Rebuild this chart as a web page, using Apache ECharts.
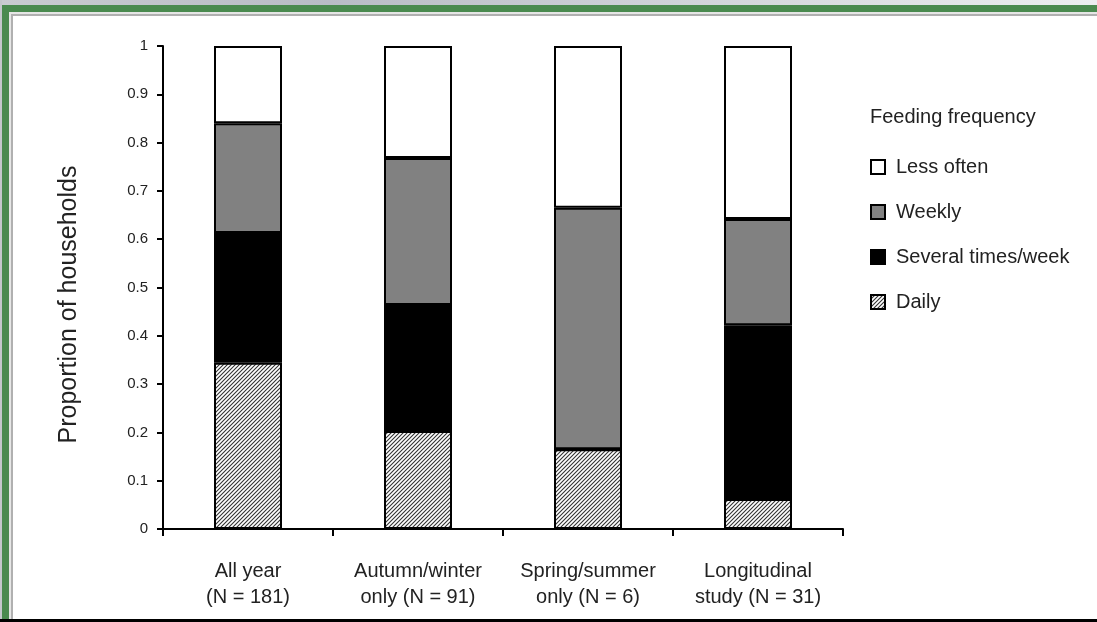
<!DOCTYPE html>
<html>
<head>
<meta charset="utf-8">
<script src="https://cdn.jsdelivr.net/npm/echarts@6/dist/echarts.min.js"></script>
<style>
html,body{margin:0;padding:0;background:#fff;}
#chart{width:1097px;height:622px;}
</style>
</head>
<body>
<div id="chart"></div>
<script>
// ---- data ----
var categories = ['All year\n(N = 181)', 'Autumn/winter\nonly (N = 91)', 'Spring/summer\nonly (N = 6)', 'Longitudinal\nstudy (N = 31)'];
var daily   = [0.344, 0.203, 0.165, 0.062];
var several = [0.269, 0.261, 0.000, 0.360];
var weekly  = [0.227, 0.304, 0.500, 0.220];
var less    = [0.160, 0.232, 0.335, 0.358];
var yTicks  = [0, 0.1, 0.2, 0.3, 0.4, 0.5, 0.6, 0.7, 0.8, 0.9, 1];
var seriesNames = ['Daily', 'Several times/week', 'Weekly', 'Less often'];
var legendOrder = ['Less often', 'Weekly', 'Several times/week', 'Daily'];

// hatch pattern
function makeHatch() {
  var s = 4;
  var c = document.createElement('canvas');
  c.width = s; c.height = s;
  var ctx = c.getContext('2d');
  ctx.fillStyle = '#ffffff';
  ctx.fillRect(0, 0, s, s);
  ctx.strokeStyle = '#333';
  ctx.lineWidth = 1.1;
  ctx.beginPath();
  ctx.moveTo(-1, s + 1); ctx.lineTo(s + 1, -1);
  ctx.moveTo(-1, 1); ctx.lineTo(1, -1);
  ctx.moveTo(s - 1, s + 1); ctx.lineTo(s + 1, s - 1);
  ctx.stroke();
  return c;
}
var hatch = { image: makeHatch(), repeat: 'repeat' };

var fills = {
  'Daily': hatch,
  'Several times/week': '#000000',
  'Weekly': '#818181',
  'Less often': '#ffffff'
};
var values = { 'Daily': daily, 'Several times/week': several, 'Weekly': weekly, 'Less often': less };

var chart = echarts.init(document.getElementById('chart'), null, { renderer: 'canvas' });
var font = 'Liberation Sans, Arial, sans-serif';

var series = seriesNames.map(function (n) {
  return {
    name: n,
    type: 'bar',
    stack: 'total',
    barWidth: '40%',
    data: values[n],
    itemStyle: { color: fills[n], borderColor: '#000', borderWidth: 2 },
    emphasis: { disabled: true }
  };
});

var option = {
  backgroundColor: '#ffffff',
  animation: false,
  textStyle: { fontFamily: font },
  graphic: [
    { type: 'rect', z: 100, shape: { x: 0, y: 0, width: 1097, height: 5 },
      style: { fill: new echarts.graphic.LinearGradient(0, 0, 1, 0, [{ offset: 0, color: '#c9cbd1' }, { offset: 0.3, color: '#b9bcc6' }, { offset: 1, color: '#eceef0' }]) } },
    { type: 'rect', z: 100, shape: { x: 0, y: 0, width: 2, height: 622 }, style: { fill: '#c4c7cc' } },
    { type: 'rect', z: 100, shape: { x: 2, y: 5, width: 1095, height: 7 }, style: { fill: '#4a8a4f' } },
    { type: 'rect', z: 100, shape: { x: 2, y: 5, width: 7, height: 617 }, style: { fill: '#4a8a4f' } },
    { type: 'rect', z: 100, shape: { x: 9, y: 12, width: 1088, height: 2 }, style: { fill: '#e6e6e6' } },
    { type: 'rect', z: 100, shape: { x: 9, y: 14, width: 1088, height: 2 }, style: { fill: '#b0b0b0' } },
    { type: 'rect', z: 100, shape: { x: 9, y: 12, width: 2, height: 610 }, style: { fill: '#e6e6e6' } },
    { type: 'rect', z: 100, shape: { x: 11, y: 14, width: 2, height: 608 }, style: { fill: '#b0b0b0' } },
    { type: 'rect', z: 101, shape: { x: 0, y: 619, width: 1097, height: 3 }, style: { fill: '#000' } }
  ],
  title: {
    text: 'Feeding frequency',
    left: 870, top: 107,
    padding: 0,
    textStyle: { fontFamily: font, fontSize: 20, fontWeight: 'normal', color: '#222' }
  },
  legend: {
    orient: 'vertical',
    left: 870, top: 157,
    padding: 0,
    data: legendOrder,
    itemWidth: 14, itemHeight: 14,
    itemGap: 25,
    icon: 'rect',
    selectedMode: false,
    textStyle: { fontFamily: font, fontSize: 20, color: '#222', padding: [0, 0, 0, 6] },
    itemStyle: { borderColor: '#000', borderWidth: 2 }
  },
  grid: { left: 163, right: 254, top: 46, bottom: 93, containLabel: false },
  xAxis: {
    type: 'category',
    data: categories,
    boundaryGap: true,
    axisLine: { lineStyle: { color: '#000', width: 2 } },
    axisTick: { show: true, alignWithLabel: false, length: 7, lineStyle: { color: '#000', width: 2 } },
    axisLabel: { fontFamily: font, fontSize: 20, color: '#222', margin: 29, lineHeight: 26, interval: 0 }
  },
  yAxis: {
    type: 'value',
    min: 0, max: 1, interval: 0.1,
    name: 'Proportion of households',
    nameLocation: 'middle',
    nameGap: 81,
    nameTextStyle: { fontFamily: font, fontSize: 25, color: '#222', padding: [0, 34, 0, 0] },
    splitLine: { show: false },
    axisLine: { show: true, lineStyle: { color: '#000', width: 2 } },
    axisTick: { show: true, length: 6, lineStyle: { color: '#000', width: 2 } },
    axisLabel: {
      fontFamily: font, fontSize: 15, color: '#222', margin: 15,
      formatter: function (v) {
        var r = Math.round(v * 10) / 10;
        return yTicks.indexOf(r) >= 0 ? String(r) : '';
      }
    }
  },
  series: series
};
chart.setOption(option);
</script>
</body>
</html>
